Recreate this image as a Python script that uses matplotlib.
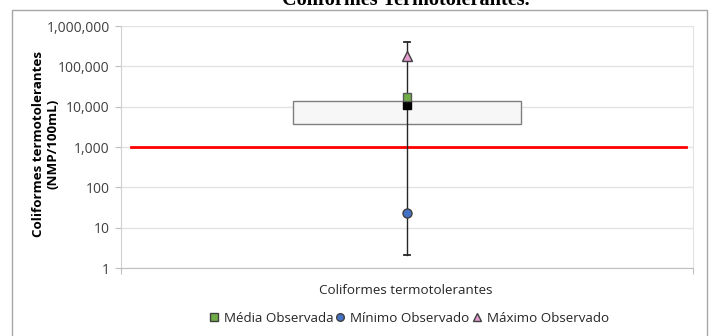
import matplotlib.pyplot as plt
from matplotlib.patches import Rectangle
from matplotlib.lines import Line2D
from matplotlib.ticker import FixedLocator, FuncFormatter

# valores
categoria = "Coliformes termotolerantes"
q1, q3 = 3800, 14000
mediana = 10700
media = 17000
minimo_obs = 23
maximo_obs = 180000
whisker_min, whisker_max = 2.1, 410000
limite = 1000
yticks = [1, 10, 100, 1000, 10000, 100000, 1000000]

plt.rcParams['font.family'] = ['Open Sans', 'DejaVu Sans']

fig = plt.figure(figsize=(7.12, 3.36), dpi=100)
ax = fig.add_axes([121 / 712, 1 - 268 / 336, 572 / 712, 242 / 336])

# moldura do grafico
fig.patches.append(Rectangle((12 / 712, -0.05), 695 / 712, 1.05 - 10 / 336,
                             transform=fig.transFigure, fill=False,
                             edgecolor='#A6A6A6', linewidth=1.0))

ax.set_yscale('log')
ax.set_ylim(1, 1000000)
ax.set_xlim(0, 1)
ax.yaxis.set_major_locator(FixedLocator(yticks))
ax.yaxis.set_minor_locator(FixedLocator([]))
ax.yaxis.set_major_formatter(FuncFormatter(lambda v, p: f"{int(round(v)):,}"))
ax.grid(axis='y', color='#E3E3E3', linewidth=1.0)
ax.set_axisbelow(True)

ax.spines['top'].set_visible(False)
ax.spines['right'].set_color('#E3E3E3')
ax.spines['left'].set_color('#D0D0D0')
ax.spines['bottom'].set_color('#BFBFBF')
ax.tick_params(axis='y', colors='#BFBFBF', labelcolor='#404040', labelsize=10,
               length=4, pad=4)
ax.set_xticks([0, 1])
ax.set_xticklabels([])
ax.tick_params(axis='x', colors='#BFBFBF', length=4)

centro = 0.5
meia = 0.199

# linha limite
ax.plot([0.0175, 0.988], [limite, limite], color='#FF0000', linewidth=2, zorder=2)

# caixa
ax.add_patch(Rectangle((centro - meia, q1), 2 * meia, q3 - q1,
                       facecolor='#F7F7F7', edgecolor='#7F7F7F', linewidth=1.0, zorder=3))

# bigodes
ax.plot([centro, centro], [whisker_min, whisker_max], color='#262626', linewidth=1.0, zorder=4)
for v in [whisker_min, whisker_max]:
    ax.plot([centro - 0.0055, centro + 0.0055], [v, v], color='#262626', linewidth=1.3, zorder=4)

ax.plot(centro, mediana, marker='s', markersize=5.5, color='black', zorder=5)
ax.plot(centro, media, marker='s', markersize=6.2, markerfacecolor='#70AD47',
        markeredgecolor='#595959', zorder=6)
ax.plot(centro, minimo_obs, marker='o', markersize=6.5, markerfacecolor='#4472C4',
        markeredgecolor='#404040', zorder=6)
ax.plot(centro, maximo_obs, marker='^', markersize=6.5, markerfacecolor='#E59BCF',
        markeredgecolor='#404040', zorder=6)

ax.set_ylabel("Coliformes termotolerantes\n(NMP/100mL)", fontsize=9.6,
              fontweight='bold', color='black', linespacing=1.1)
ax.yaxis.set_label_coords(-0.108, 0.514)

fig.text(406 / 712, 1 - 290 / 336, categoria, ha='center', va='center',
         fontsize=9.6, color='#262626')

fig.text(406 / 712, 1 - 5 / 336, "Coliformes Termotolerantes.", ha='center',
         va='baseline', fontsize=14.6, fontweight='bold', family='Liberation Serif')

handles = [
    Line2D([], [], linestyle='none', marker='s', markersize=5.5,
           markerfacecolor='#70AD47', markeredgecolor='#404040'),
    Line2D([], [], linestyle='none', marker='o', markersize=5.5,
           markerfacecolor='#4472C4', markeredgecolor='#404040'),
    Line2D([], [], linestyle='none', marker='^', markersize=5.5,
           markerfacecolor='#E59BCF', markeredgecolor='#404040'),
]
labels = ["Média Observada", "Mínimo Observado", "Máximo Observado"]
fig.legend(handles, labels, loc='center', bbox_to_anchor=(409 / 712, 1 - 318 / 336),
           ncol=3, frameon=False, fontsize=9.6, handlelength=0.7,
           handletextpad=0.4, columnspacing=0.2, labelcolor='#262626')

fig.savefig("out.png", dpi=100)
